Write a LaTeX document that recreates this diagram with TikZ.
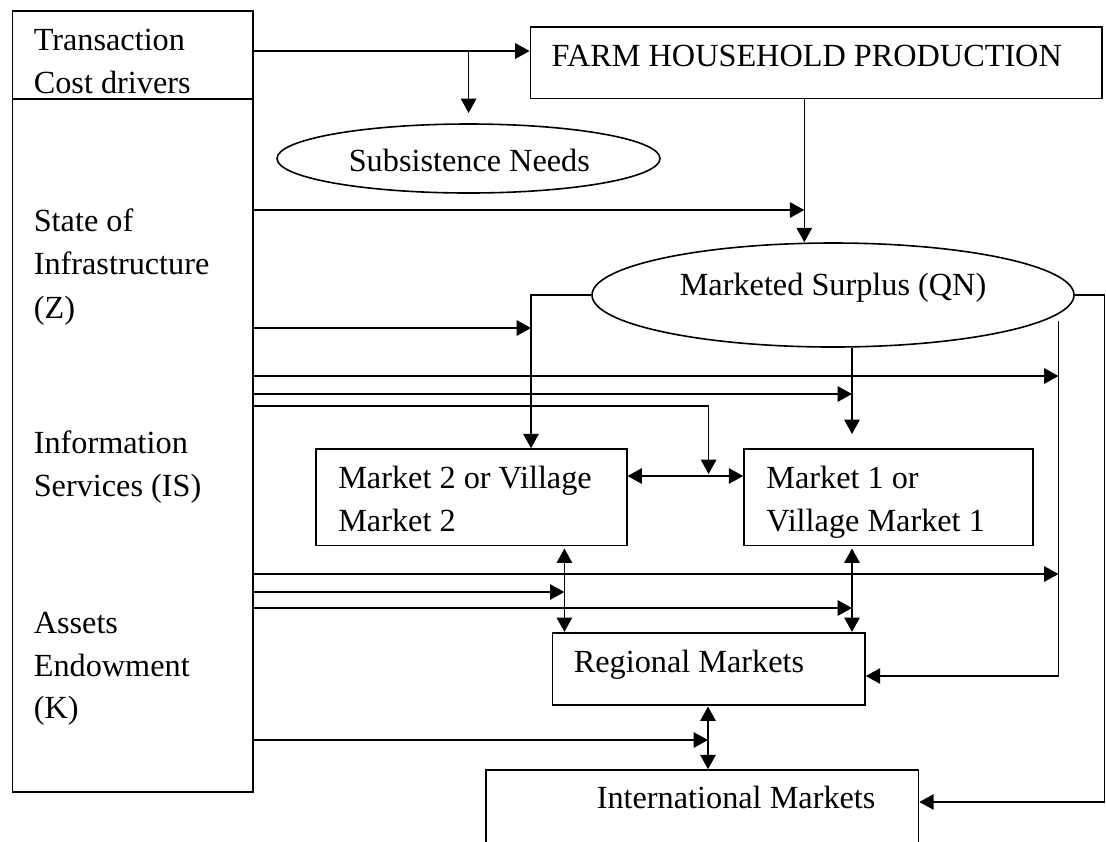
\documentclass[tikz,border=0pt]{standalone}
\usepackage{fontspec}
\setmainfont{Liberation Serif}
\usetikzlibrary{arrows.meta,shapes.geometric}
\newcommand\pxu{0.375pt}
\begin{document}
\begin{tikzpicture}[x=0.375pt,y=-0.375pt,
  line width=0.6pt,
  box/.style={draw,rectangle,inner sep=0pt},
  oval/.style={draw,ellipse,inner sep=0pt},
  lbl/.style={anchor=base west,inner sep=0pt,font=\fontsize{12.1}{14}\selectfont},
  arr/.style={-{Triangle[length=5.4pt,width=5.8pt]}},
  dbl/.style={{Triangle[length=5.4pt,width=5.8pt]}-{Triangle[length=5.4pt,width=5.8pt]}}]
\clip (0,0) rectangle (1106,841);
\fill[white] (0,0) rectangle (1106,841);

% boxes
\node[box,minimum width=240.4*\pxu,minimum height=781*\pxu] (lb) at (132.7,401.2) {};
\node[box,minimum width=571.6*\pxu,minimum height=71.6*\pxu] (farm) at (816.2,62.5) {};
\node[oval,minimum width=383*\pxu,minimum height=69*\pxu] (subs) at (468.5,158.5) {};
\node[oval,minimum width=482*\pxu,minimum height=104*\pxu] (ms) at (833,295) {};
\node[box,minimum width=310.7*\pxu,minimum height=96.5*\pxu] (m2) at (471.35,497.25) {};
\node[box,minimum width=289*\pxu,minimum height=96.5*\pxu] (m1) at (888.5,497.25) {};
\node[box,minimum width=312.5*\pxu,minimum height=72.3*\pxu] (reg) at (708.75,668.85) {};
\node[box,minimum width=432.8*\pxu,minimum height=100*\pxu] (intl) at (702.1,820) {};
\draw (lb.west |- 0,99) -- (lb.east |- 0,99);

% texts
\node[lbl] (t1) at (33,50.7) {Transaction};
\node[lbl] (t2) at (33,93.3) {Cost drivers};
\node[lbl] (t3) at (33,231.7) {State of};
\node[lbl] (t4) at (33,274) {Infrastructure};
\node[lbl] (t5) at (33,318) {(Z)};
\node[lbl] (t6) at (33,453) {Information};
\node[lbl] (t7) at (33,496.7) {Services (IS)};
\node[lbl] (t8) at (33,633.3) {Assets};
\node[lbl] (t9) at (33,676.7) {Endowment};
\node[lbl] (t10) at (33,718.3) {(K)};
\node[lbl] (tf) at (550.8,66.7) {FARM HOUSEHOLD PRODUCTION};
\node[lbl] (ts) at (348,171.7) {Subsistence Needs};
\node[lbl] (tm) at (679,295) {Marketed Surplus (QN)};
\node[lbl] (tm2a) at (337.5,488) {Market 2 or Village};
\node[lbl] (tm2b) at (337.5,531) {Market 2};
\node[lbl] (tm1a) at (765.6,488) {Market 1 or};
\node[lbl] (tm1b) at (765.6,531) {Village Market 1};
\node[lbl] (tr) at (573,672) {Regional Markets};
\node[lbl] (ti) at (596,808) {International Markets};

% junction coordinates
\coordinate (jA) at (468.6,51);
\coordinate (subsTip) at (468.6,113);
\coordinate (jB) at (804.3,210);
\coordinate (jC) at (531,295);
\coordinate (jD) at (531,328);
\coordinate (vIn) at (1058.5,320.7);
\coordinate (vInB) at (1058.5,676);
\coordinate (jE) at (1058.5,376);
\coordinate (jF) at (852,394);
\coordinate (jG) at (708.6,406);
\coordinate (jGt) at (708.6,474);
\coordinate (m1Tip) at (852,434);
\coordinate (jH) at (1058.5,574);
\coordinate (jI) at (564.4,592);
\coordinate (jJ) at (852,608);
\coordinate (m2b) at (564.4,548.5);
\coordinate (m1b) at (852,548.5);
\coordinate (regb) at (708,706.5);
\coordinate (jK) at (708,740);
\coordinate (oR) at (1104.5,295);
\coordinate (oRB) at (1104.5,802);

% connectors
\draw[arr] (lb.east |- 0,51) -- (farm.west |- 0,51);
\draw[arr] (jA) -- (subsTip);
\draw[arr] (farm.south -| jB) -- (ms.north -| jB);
\draw[arr] (lb.east |- jB) -- (jB);
\draw[arr] (ms.west) -- (jC) -- (m2.north -| jC);
\draw[arr] (lb.east |- jD) -- (jD);
\draw[arr] (lb.east |- jE) -- (jE);
\draw[arr] (lb.east |- jF) -- (jF);
\draw[arr] (lb.east |- jG) -- (jG) -- (jGt);
\draw[dbl] (m2.east |- 0,476) -- (m1.west |- 0,476);
\draw[arr] (ms.south -| m1Tip) -- (m1Tip);
\draw[arr] (vIn) -- (vInB) -- (reg.east |- vInB);
\draw[arr] (lb.east |- jH) -- (jH);
\draw[arr] (lb.east |- jI) -- (jI);
\draw[arr] (lb.east |- jJ) -- (jJ);
\draw[dbl] (m2b) -- (reg.north -| m2b);
\draw[dbl] (m1b) -- (reg.north -| m1b);
\draw[dbl] (regb) -- (intl.north -| regb);
\draw[arr] (lb.east |- jK) -- (jK);
\draw[arr] (ms.east) -- (oR) -- (oRB) -- (intl.east |- oRB);
\end{tikzpicture}
\end{document}
